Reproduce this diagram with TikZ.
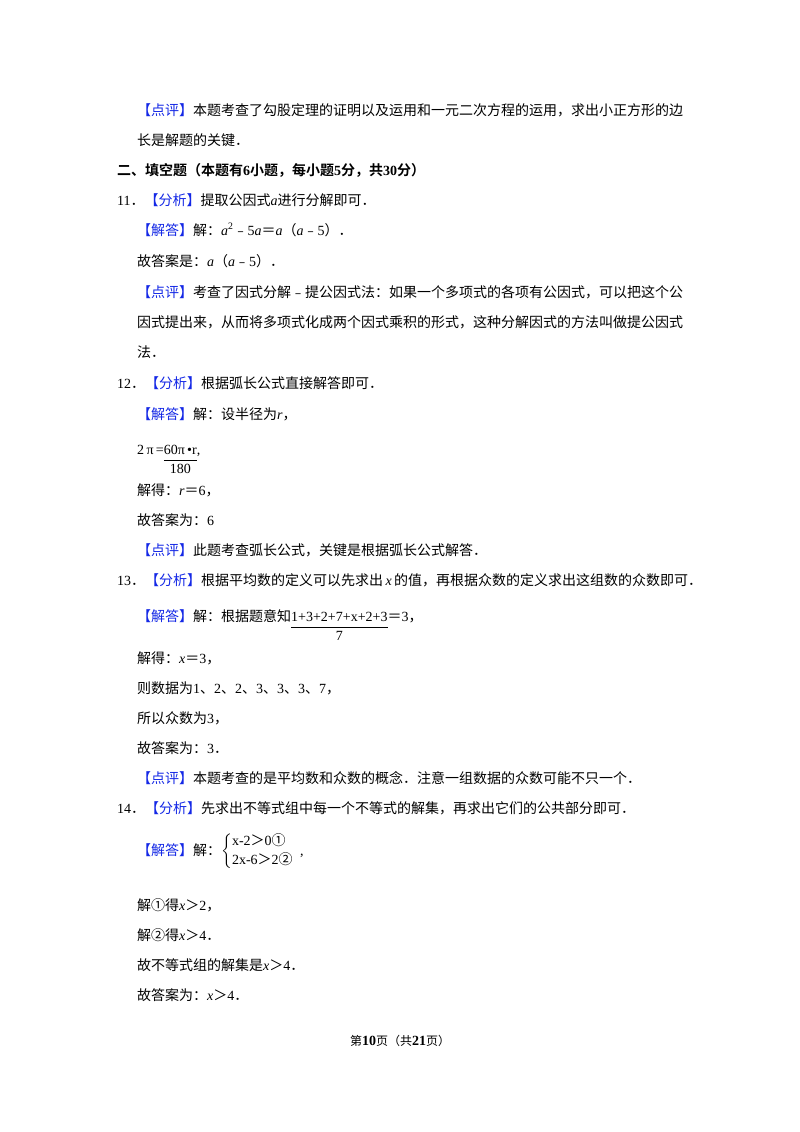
\documentclass[tikz,border=0pt]{standalone}
\usepackage{amsmath}
\usepackage{fontspec}
\setmainfont{Noto Sans CJK SC}
\newfontfamily\ser{Liberation Serif}
\newfontfamily\sbf{Noto Sans CJK SC Bold}
\definecolor{blueC}{RGB}{20,40,230}
\newcommand{\BK}[1]{\textcolor{blueC}{【#1】}}
\newcommand{\vi}[1]{{\ser\itshape #1}}
\newcommand{\vr}[1]{{\ser #1}}
\newcommand{\myfrac}[2]{\raisebox{-0.62\baselineskip}{\renewcommand{\arraystretch}{1.15}\setlength{\tabcolsep}{0pt}\begin{tabular}{c}\vr{#1}\\\hline\vr{#2}\end{tabular}}}
\begin{document}
\begin{tikzpicture}[x=1pt,y=-1pt,
  ln/.style={anchor=base west,inner sep=0pt,font=\fontsize{14}{16}\selectfont}]
\useasboundingbox (0,0) rectangle (800,1132);
\fill[white] (0,0) rectangle (800,1132);
\node[ln] (l1) at (137,115) {\BK{点评}本题考查了勾股定理的证明以及运用和一元二次方程的运用，求出小正方形的边};
\node[ln] (l2) at (137,145) {长是解题的关键．};
\node[ln,font=\fontsize{14}{16}\sbf] (l3) at (117,175) {二、填空题（本题有\vr{\bfseries 6}小题，每小题\vr{\bfseries 5}分，共\vr{\bfseries 30}分）};
\node[ln] (l4) at (117,205) {\vr{11}．\BK{分析}提取公因式\vi{a}进行分解即可．};
\node[ln] (l5) at (137,235) {\BK{解答}解：\vi{a}\vr{\textsuperscript{2}}﹣\vr{5}\vi{a}＝\vi{a}（\vi{a}﹣\vr{5}）．};
\node[ln] (l6) at (137,266) {故答案是：\vi{a}（\vi{a}﹣\vr{5}）．};
\node[ln] (l7) at (137,297) {\BK{点评}考查了因式分解﹣提公因式法：如果一个多项式的各项有公因式，可以把这个公};
\node[ln] (l8) at (137,327) {因式提出来，从而将多项式化成两个因式乘积的形式，这种分解因式的方法叫做提公因式};
\node[ln] (l9) at (137,357) {法．};
\node[ln] (l10) at (117,388) {\vr{12}．\BK{分析}根据弧长公式直接解答即可．};
\node[ln] (l11) at (137,419) {\BK{解答}解：设半径为\vi{r}，};
\node[ln] (l12) at (137,454) {\vr{2\,π\,=}\myfrac{60π\,•r}{180}\vr{,}};
\node[ln] (l13) at (137,495) {解得：\vi{r}＝\vr{6}，};
\node[ln] (l14) at (137,525) {故答案为：\vr{6}};
\node[ln] (l15) at (137,555) {\BK{点评}此题考查弧长公式，关键是根据弧长公式解答．};
\node[ln] (l16) at (117,585) {\vr{13}．\BK{分析}根据平均数的定义可以先求出\,\vi{x}\,的值，再根据众数的定义求出这组数的众数即可．};
\node[ln] (l17) at (137,621) {\BK{解答}解：根据题意知\myfrac{1+3+2+7+x+2+3}{7}＝\vr{3}，};
\node[ln] (l18) at (137,663) {解得：\vi{x}＝\vr{3}，};
\node[ln] (l19) at (137,693) {则数据为\vr{1}、\vr{2}、\vr{2}、\vr{3}、\vr{3}、\vr{3}、\vr{7}，};
\node[ln] (l20) at (137,723) {所以众数为\vr{3}，};
\node[ln] (l21) at (137,753) {故答案为：\vr{3}．};
\node[ln] (l22) at (137,783) {\BK{点评}本题考查的是平均数和众数的概念．注意一组数据的众数可能不只一个．};
\node[ln] (l23) at (117,813) {\vr{14}．\BK{分析}先求出不等式组中每一个不等式的解集，再求出它们的公共部分即可．};
\node[ln] (l24) at (137,855) {\BK{解答}解：$\left\{\begin{tabular}{@{}l@{}}\vr{x-2}＞\vr{0}①\\[3pt] \vr{2x-6}＞\vr{2}②\end{tabular}\right.$\ \ \vr{,}};
\node[ln] (l25) at (137,910) {解①得\vi{x}＞\vr{2}，};
\node[ln] (l26) at (137,940) {解②得\vi{x}＞\vr{4}．};
\node[ln] (l27) at (137,970) {故不等式组的解集是\vi{x}＞\vr{4}．};
\node[ln] (l28) at (137,1000) {故答案为：\vi{x}＞\vr{4}．};
\node[anchor=base,inner sep=0pt,font=\fontsize{12}{14}\selectfont] (foot) at (400,1045) {第\vr{\bfseries\fontsize{14}{14}\selectfont 10}页（共\vr{\bfseries\fontsize{14}{14}\selectfont 21}页）};
\end{tikzpicture}
\end{document}
